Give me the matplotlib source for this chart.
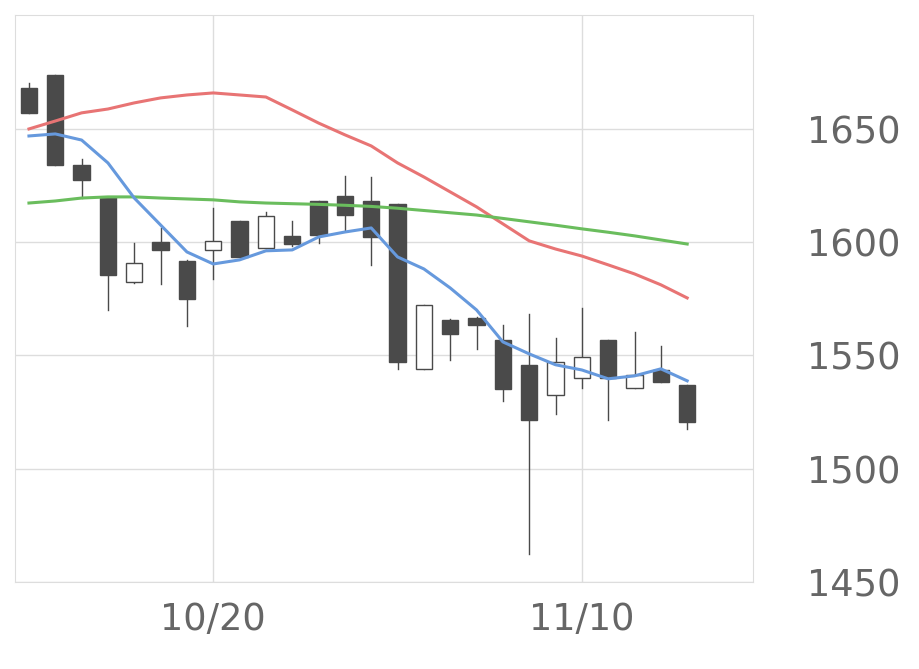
import matplotlib
matplotlib.use("Agg")
import matplotlib.pyplot as plt
from matplotlib.patches import Rectangle

opens  = [1668,1674,1634,1620,1582.5,1600.1,1591.7,1596.6,1609.4,1597.5,1602.8,1618.2,1620.4,1618.2,1616.9,1544.1,1565.7,1566.6,1556.9,1545.9,1532.6,1540.1,1556.9,1535.7,1543.6,1537]
closes = [1657,1634,1627.5,1585.6,1590.9,1596.6,1575,1600.6,1593.5,1611.6,1599.3,1603.2,1612.0,1602.3,1547.2,1572.3,1559.5,1563.5,1535.3,1521.6,1547.2,1549.4,1540.1,1541.4,1538.3,1520.7]
highs  = [1670.3,1674,1636.8,1620,1599.7,1606.3,1592,1615.1,1609.4,1613.4,1609.4,1618.2,1629.3,1628.8,1616.9,1572.3,1566,1567,1563.5,1568.4,1557.8,1571,1557,1560.4,1554.2,1537]
lows   = [1657,1634,1619.5,1570.1,1582,1581.6,1563.1,1583.8,1593.5,1597.5,1598.4,1599.7,1605.4,1590,1544.1,1544.1,1548.1,1552.9,1530,1462.4,1524.2,1535.7,1521.6,1535.7,1538.3,1517.6]
ma_short = [1646.9,1647.8,1645.1,1635.0,1619.5,1607.6,1595.7,1590.4,1592.2,1596.2,1596.6,1602.3,1604.5,1606.3,1593.5,1588.2,1579.8,1570.1,1556.0,1550.7,1545.9,1543.6,1539.7,1541.0,1544.1,1538.8]
ma_mid = [1650,1653.5,1657.1,1658.8,1661.5,1663.7,1665.0,1665.9,1665,1664.1,1658.4,1652.6,1647.4,1642.5,1635.0,1628.8,1622.2,1615.6,1608.1,1600.6,1597.0,1593.9,1590.0,1586.0,1581.2,1575.4]
ma_long = [1617.3,1618.2,1619.5,1620,1620,1619.5,1619.1,1618.7,1617.8,1617.3,1617.0,1616.7,1616.3,1615.8,1615.0,1614.0,1613.0,1612.0,1610.5,1609.0,1607.5,1605.9,1604.4,1602.8,1601.0,1599.2]
tick_pos = [7, 21]
tick_labels = ["10/20", "11/10"]
y_ticks = [1450, 1500, 1550, 1600, 1650]

fig = plt.figure(figsize=(9.2, 6.69), dpi=100)
ax = fig.add_axes([15/920, 1-582/669, 738/920, 567/669])
dark = "#4a4a4a"
w = 0.62
for i, (o, c, h, l) in enumerate(zip(opens, closes, highs, lows)):
    ax.plot([i, i], [l, h], color=dark, lw=1, zorder=2)
    up = c >= o
    ax.add_patch(Rectangle((i - w/2, min(o, c)), w, max(abs(c - o), 0.5),
                           facecolor="white" if up else dark, edgecolor=dark, lw=1, zorder=3))
x = list(range(len(opens)))
ax.plot(x, ma_mid, color="#e87474", lw=2.2, zorder=4)
ax.plot(x, ma_long, color="#6abd5d", lw=2.2, zorder=4)
ax.plot(x, ma_short, color="#6699dd", lw=2.2, zorder=4)

ax.set_xlim(-0.53, 27.5)
ax.set_ylim(1450, 1700.3)
ax.set_xticks(tick_pos)
ax.set_xticklabels(tick_labels)
ax.set_yticks(y_ticks)
ax.yaxis.tick_right()
ax.tick_params(length=0, labelsize=26.5, colors="#666666")
ax.tick_params(axis="y", pad=39)
ax.tick_params(axis="x", pad=14)
ax.grid(True, color="#dddddd", lw=1)
ax.set_axisbelow(True)
for s in ax.spines.values():
    s.set_color("#dddddd")
fig.savefig("out.png", dpi=100)
